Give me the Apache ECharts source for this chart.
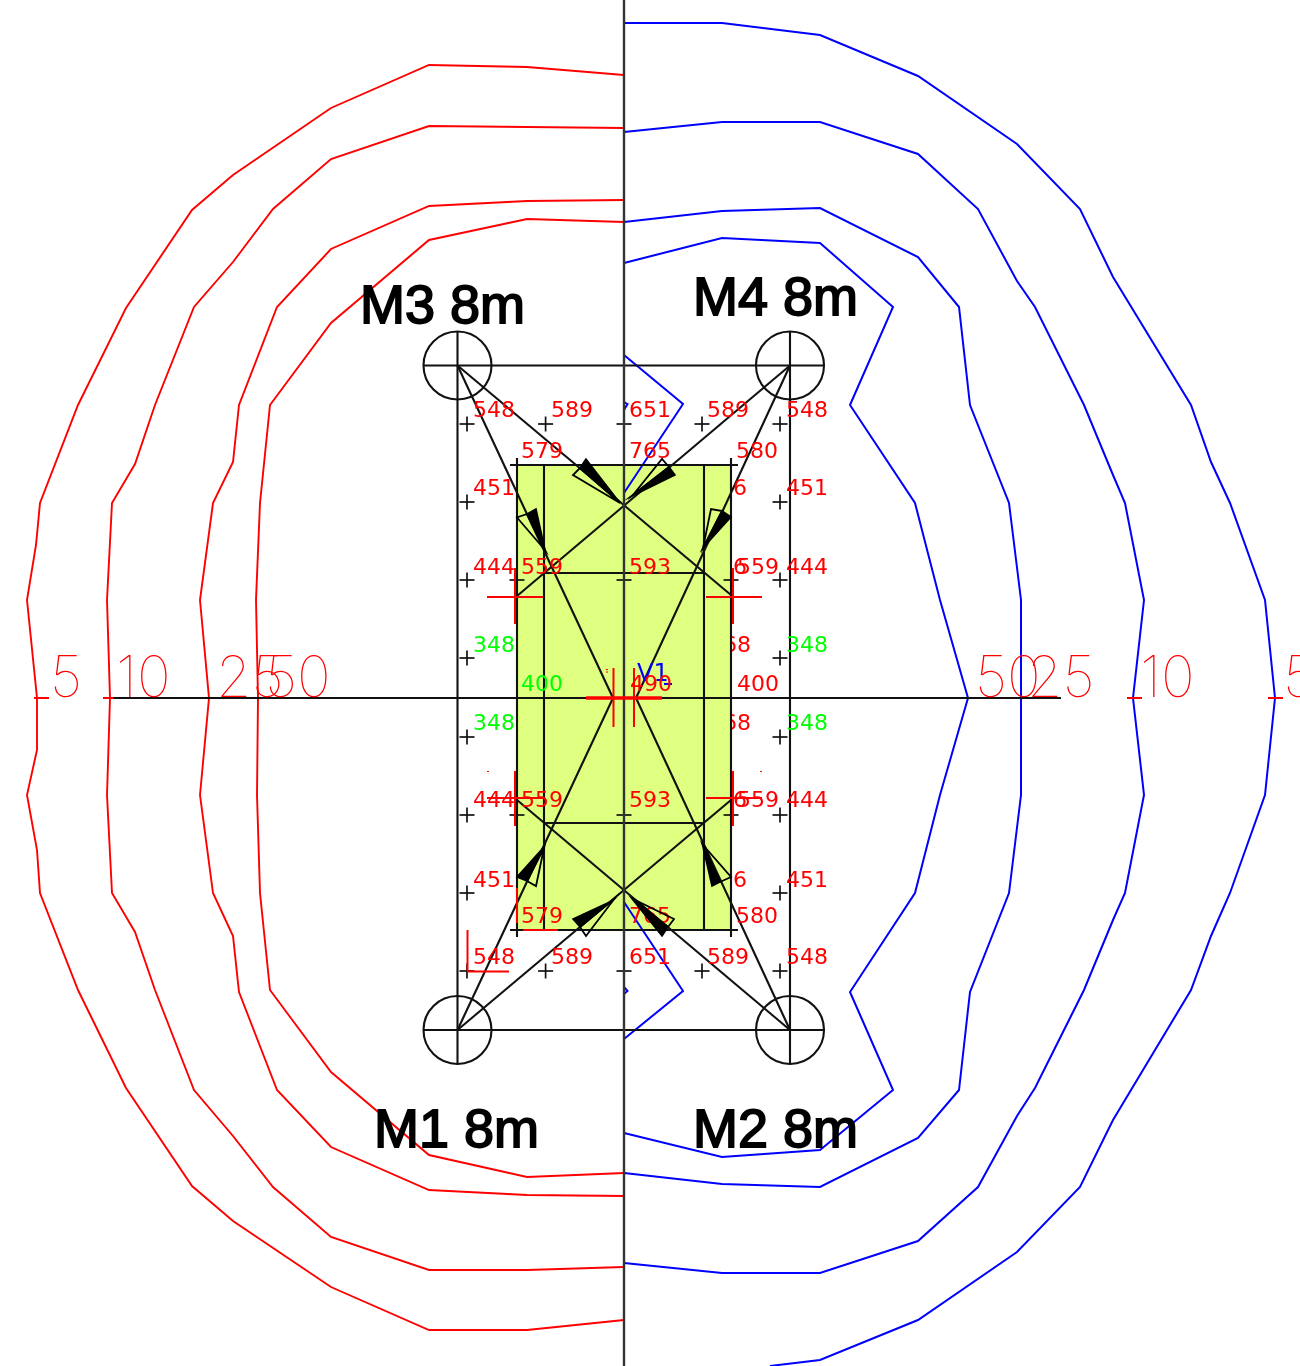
<!DOCTYPE html>
<html>
<head>
<meta charset="utf-8">
<style>html,body{margin:0;padding:0;background:#fff}#c{width:1300px;height:1366px}</style>
<script src="https://cdn.jsdelivr.net/npm/echarts@6/dist/echarts.min.js"></script>
</head>
<body>
<div id="c"></div>
<script>
// Contours (x, y)
const red5 = [[624,75],[527,67],[429,65],[331,108],[233,175],[192,210],[126,308],[78,405],[40,503],[36,545],[27,600],[37,698],[37,750],[27,795],[37,850],[40,893],[78,990],[126,1088],[192,1186],[233,1221],[331,1287],[429,1330],[527,1330],[624,1320]];
const red10 = [[624,128],[527,127],[429,126],[331,159],[273,209],[233,262],[194,307],[155,405],[135,464],[112,503],[107,600],[110,698],[107,795],[112,893],[135,932],[155,990],[194,1090],[233,1136],[273,1187],[331,1237],[429,1270],[527,1270],[624,1267]];
const red25 = [[624,200],[527,201],[429,206],[331,249],[277,307],[239,405],[233,462],[213,503],[200,600],[209,698],[200,795],[213,893],[233,936],[239,992],[277,1090],[331,1147],[429,1190],[527,1195],[624,1196]];
const red50 = [[624,222],[527,219],[429,240],[331,323],[270,405],[260,503],[256,600],[258,698],[257,795],[260,893],[270,990],[331,1072],[429,1155],[527,1177],[624,1173]];
const blue5 = [[624,23],[722,23],[820,35],[918,76],[1017,144],[1080,209],[1113,277],[1191,405],[1211,462],[1230,503],[1265,600],[1275,698],[1265,795],[1230,893],[1211,936],[1191,990],[1113,1120],[1080,1187],[1017,1252],[918,1320],[820,1360],[770,1366]];
const blue10 = [[624,132],[722,122],[820,122],[918,154],[978,209],[1017,281],[1035,307],[1084,405],[1113,475],[1125,503],[1144,600],[1133,698],[1144,795],[1125,893],[1113,920],[1084,990],[1035,1088],[1017,1116],[978,1187],[918,1241],[820,1273],[722,1273],[624,1263]];
const blue25 = [[624,222],[722,211],[820,208],[918,257],[959,307],[970,405],[1009,503],[1021,600],[1021,698],[1021,795],[1009,893],[970,992],[959,1090],[918,1138],[820,1187],[722,1184],[624,1173]];
const blue50 = [[624,263],[722,238],[820,243],[893,307],[850,405],[915,503],[940,600],[968,698],[940,795],[915,893],[850,992],[893,1090],[820,1150],[722,1157],[624,1133]];
const blueInnerTop = [[624,355],[683,404],[624,493]];
const blueNotchTop = [[624,402],[627.5,404],[624,410]];
const blueInnerBottom = [[624,902],[683,991],[624,1039]];
const blueNotchBottom = [[624,987],[627.5,991],[624,994]];
const blueUnderline = [[664,684],[672,684]];

// Structure
const slab = [[517,465],[731,465],[731,930],[517,930]];
const structureLines = [
  [[457.5,331],[457.5,1064]], [[790,331],[790,1064]],
  [[423,365.5],[824,365.5]], [[423,1030],[824,1030]],
  [[113,698],[1061,698]],
  [[517,458],[517,937]], [[731,458],[731,937]],
  [[510,465],[738,465]], [[510,930],[738,930]],
  [[544,465],[544,930]], [[704,465],[704,930]],
  [[544,573],[704,573]], [[544,823],[704,823]],
  [[457.5,365.5],[731,595]], [[790,365.5],[517,596]],
  [[457.5,365.5],[613,698]], [[790,365.5],[636,698]],
  [[457.5,1030],[613,698]], [[790,1030],[636,698]],
  [[457.5,1030],[731,800]], [[790,1030],[517,800]]
];
const centerLine = [[624,0],[624,1366]];
const mastCentres = [[457.5,365.5],[790,365.5],[457.5,1030],[790,1030]];

// Beam triangles: filled wedge and outlined wedge
const wedgesFilled = [
  [[586,459],[580,468],[620,503]],
  [[675,475],[669,467],[630,497]],
  [[536,509],[527,514],[545,550]],
  [[731,517],[722,511],[703,548]],
  [[517,877],[527,881],[543,848]],
  [[573,919],[580,927],[612,901]],
  [[662,936],[668,927],[633,900]],
  [[712,886],[720,882],[703,847]]
];
const wedgesOutlined = [
  [[580,468],[573,475],[620,503]],
  [[669,467],[662,459],[633,495]],
  [[527,514],[517,517.5],[545,550]],
  [[722,511],[711,509],[703,548]],
  [[527,881],[536,886],[544,848]],
  [[580,927],[586,936],[615,898]],
  [[668,927],[674,919],[635,900]],
  [[720,882],[731,877],[703,845]]
];

// Grid points (+)
const plusPoints = [
  [467,424],[545.6,424],[624,424],[702,424],[780,424],
  [467,502],[780,502],
  [467,580],[517,580],[624,580],[731,580],[780,580],
  [467,658],[780,658],[467,737],[780,737],
  [467,815],[517,815],[624,815],[731,815],[780,815],
  [467,893],[780,893],
  [467,971],[545.6,971],[624,971],[702,971],[780,971]
];
const plusHalfSize = 7.5;

// Red construction marks
const redMarks = [
  [[487,597],[543,597]], [[515,568],[515,624]],
  [[706,597],[762,597]], [[733,568],[733,624]],
  [[487,798],[543,798]], [[515,771],[515,826]],
  [[706,798],[762,798]], [[733,771],[733,826]],
  [[613.5,668],[613.5,727]], [[634,668],[634,727]],
  [[517,888],[517,923]], [[523,930],[558,930]],
  [[467.5,930],[467.5,971]], [[467,971.5],[509,971.5]],
  [[34,698],[49,698]], [[103,698],[113,698]],
  [[1127,698],[1142,698]], [[1268,698],[1283,698]],
  [[607,669],[607,670]], [[607,671.5],[607,672.5]], [[488,771],[488,772]], [[761,771],[761,772]]
];
const redThickMarks = [[[586,698],[662,698]]];

// Illuminance labels: [x, y, text]
const redLabels = [
  [473,411,'548'],[551,411,'589'],[629,411,'651'],[707,411,'589'],[786,411,'548'],
  [521,452,'579'],[629,452,'765'],[736,452,'580'],
  [473,489,'451'],[733,489,'6'],[786,489,'451'],
  [473,568,'444'],[521,568,'559'],[629,568,'593'],[733,568,'6'],[737,568,'559'],[786,568,'444'],
  [630,685,'490'],[737,685,'400'],
  [473,801,'444'],[521,801,'559'],[629,801,'593'],[733,801,'6'],[737,801,'559'],[786,801,'444'],
  [473,881,'451'],[733,881,'6'],[786,881,'451'],
  [521,917,'579'],[629,917,'765'],[736,917,'580'],
  [473,958,'548'],[551,958,'589'],[629,958,'651'],[707,958,'589'],[786,958,'548']
];
const redLabelsUnderSlab = [[723,646,'68'],[723,724,'68']];
const greenLabels = [
  [473,646,'348'],[786,646,'348'],[521,685,'400'],[473,724,'348'],[786,724,'348']
];
const blueLabels = [[637,675,'V1']];
const contourLabels = [
  [50,680,'5'],[116,680,'10'],[216,680,'25'],[265,680,'50'],
  [975,680,'50'],[1027,680,'25'],[1140,680,'10'],[1283,680,'5']
];
const mastLabels = [
  [360,308,'M3 8m'],[693,300,'M4 8m'],[374,1132,'M1 8m'],[693,1132,'M2 8m']
];

const RED = '#ff0000', BLUE = '#0000ff', GREEN = '#00ff00', BLACK = '#000000';

function linesSeries(paths, color, width, z) {
  return {
    type: 'lines', coordinateSystem: 'cartesian2d', polyline: true, silent: true, z,
    lineStyle: { color, width, opacity: 1, join: 'miter' },
    data: paths.map(p => ({ coords: p }))
  };
}
function polygonSeries(polys, style, z) {
  return {
    type: 'custom', coordinateSystem: 'cartesian2d', silent: true, z, clip: false,
    data: polys.map((p, i) => [i]),
    encode: { x: 0 },
    renderItem: (params, api) => ({
      type: 'polygon',
      shape: { points: polys[api.value(0)].map(pt => api.coord(pt)) },
      style
    })
  };
}
function textSeries(items, label, z) {
  return {
    type: 'scatter', symbol: 'circle', symbolSize: 0, silent: true, z,
    itemStyle: { opacity: 1 },
    data: items.map(t => ({ value: [t[0], t[1]], name: t[2] })),
    label: Object.assign({
      show: true, position: 'inside', align: 'left', verticalAlign: 'middle', opacity: 1,
      formatter: p => p.name
    }, label)
  };
}
const numberFont = { fontFamily: 'DejaVu Sans', fontSize: 22 };
const plusSegments = plusPoints.flatMap(([x, y]) => [
  [[x - plusHalfSize, y], [x + plusHalfSize, y]],
  [[x, y - plusHalfSize], [x, y + plusHalfSize]]
]);

const chart = echarts.init(document.getElementById('c'), null, { renderer: 'canvas', width: 1300, height: 1366 });
chart.setOption({
  animation: false,
  backgroundColor: '#ffffff',
  grid: { left: 0, right: 0, top: 0, bottom: 0, containLabel: false },
  xAxis: { type: 'value', min: 0, max: 1300, show: false },
  yAxis: { type: 'value', min: 0, max: 1366, inverse: true, show: false },
  series: [
    textSeries(redLabelsUnderSlab, Object.assign({ color: RED }, numberFont), 1),
    polygonSeries([slab], { fill: '#dfff80' }, 2),
    linesSeries([blue5, blue10, blue25, blue50, blueInnerTop, blueNotchTop, blueInnerBottom, blueNotchBottom, blueUnderline], BLUE, 2, 3),
    linesSeries([red5, red10, red25, red50], RED, 1.9, 3),
    linesSeries(structureLines, '#111111', 2.1, 4),
    linesSeries(plusSegments, '#111111', 1.7, 4),
    linesSeries([centerLine], '#333333', 2.4, 4),
    {
      type: 'scatter', symbol: 'circle', symbolSize: 68, silent: true, z: 4,
      itemStyle: { color: 'rgba(0,0,0,0)', borderColor: '#111111', borderWidth: 2.1, opacity: 1 },
      data: mastCentres
    },
    linesSeries(redMarks, RED, 2, 5),
    linesSeries(redThickMarks, RED, 3.5, 5),
    textSeries(contourLabels, { color: RED, fontFamily: 'Inter', fontWeight: 100, fontSize: 57 }, 5),
    textSeries(redLabels, Object.assign({ color: RED }, numberFont), 6),
    textSeries(greenLabels, Object.assign({ color: GREEN }, numberFont), 6),
    textSeries(blueLabels, { color: BLUE, fontFamily: 'DejaVu Sans', fontSize: 24 }, 5),
    polygonSeries(wedgesOutlined, { fill: 'none', stroke: BLACK, lineWidth: 1.8 }, 7),
    polygonSeries(wedgesFilled, { fill: BLACK, stroke: BLACK, lineWidth: 1.6 }, 7),
    textSeries(mastLabels, { color: BLACK, fontFamily: 'Liberation Sans', fontSize: 54, textBorderColor: BLACK, textBorderWidth: 1.8 }, 8)
  ]
});
</script>
</body>
</html>
